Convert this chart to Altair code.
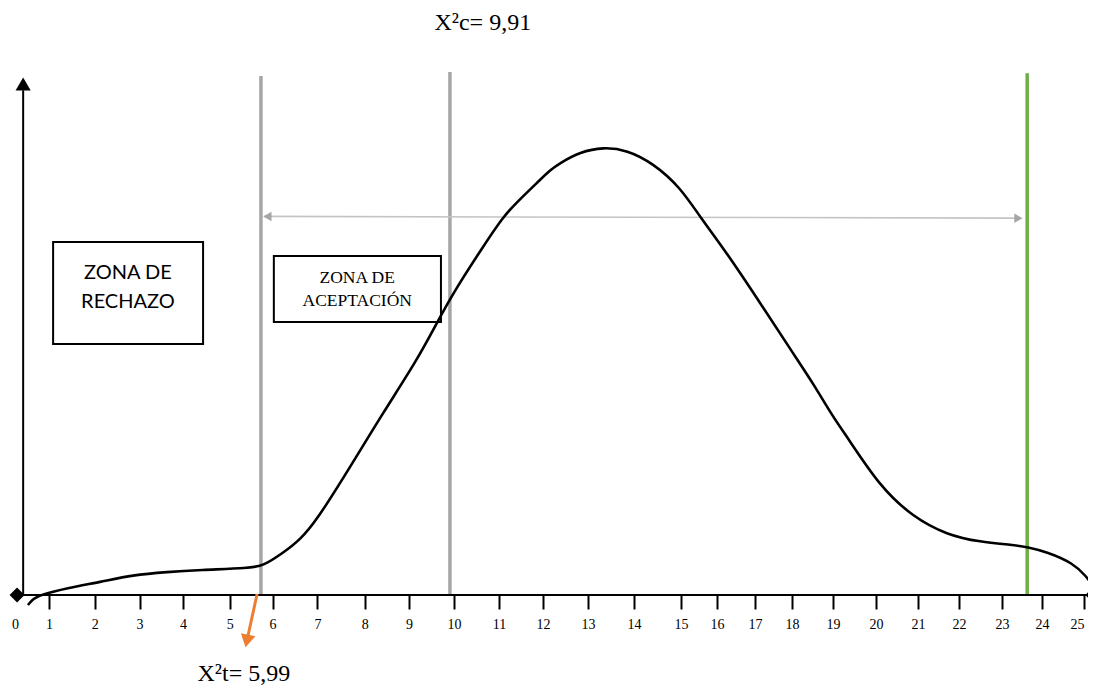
import altair as alt
import pandas as pd

# ---------------- data ----------------
tick_values = list(range(0, 26))

curve_x = [0.38, 0.53, 0.74, 1.39, 2.12, 2.85, 3.63, 4.36, 5.47, 5.78,
           6.23, 6.61, 6.99, 7.69, 8.41, 9.18, 9.62, 9.98, 10.64, 11.09,
           11.41, 11.93, 12.16, 12.38, 12.82, 13.33, 13.85, 14.40, 14.98, 15.53,
           16.26, 17.14, 18.02, 18.51, 19.00, 19.33, 20.10, 20.88, 21.71, 22.49,
           23.28, 23.63, 24.12, 24.74, 25.07, 25.19]
curve_y = [-1.70, -0.68, 0.0, 1.19, 2.21, 3.41, 3.92, 4.26, 4.60, 4.94,
           7.16, 9.37, 12.78, 21.81, 31.01, 40.03, 46.34, 51.45, 59.28, 64.40,
           66.95, 70.70, 72.40, 73.59, 75.47, 76.32, 75.81, 73.59, 69.51, 64.40,
           58.26, 49.74, 41.23, 36.12, 30.32, 26.92, 18.40, 13.29, 10.22, 9.03,
           8.52, 8.18, 7.33, 5.45, 3.07, 1.70]

critical_x = [5.73, 9.91]          # X²t line, X²c line
critical_top = [88.4, 89.1]
green_x = [23.63]
green_top = [88.9]

accept_arrow_x = [5.80, 23.50]
accept_arrow_y = [64.5, 64.2]

rechazo_box = {"x": [1.09], "x2": [4.43], "y": [60.14], "y2": [42.76]}
acept_box = {"x": [6.03], "x2": [9.71], "y": [57.75], "y2": [46.51]}
rechazo_lines = ["ZONA DE", "RECHAZO"]
rechazo_x = [2.74, 2.74]
rechazo_y = [54.85, 49.91]
acept_lines = ["ZONA DE", "ACEPTACIÓN"]
acept_x = [7.84, 7.84]
acept_y = [54.0, 50.09]

label_c = ["X²c= 9,91"]
label_c_x = [10.64]
label_c_y = [97.5]
label_t = ["X²t= 5,99"]
label_t_x = [5.33]
label_t_y = [-14.6]

orange_x = [5.64, 5.42]
orange_y = [0.17, -7.2]
orange_head_x = [5.40]
orange_head_y = [-7.84]

axis_x = [0.06, 25.21]
yaxis_x = [0.24]
yaxis_top = [86.0]
yaxis_head = [87.05]

# ---------------- scales ----------------
X_RANGE = [7, 41, 86.7, 131.6, 175, 221.7, 264.5, 309.4, 356.8, 401, 446,
           491, 535, 580, 626, 673, 709, 747, 784, 825, 868, 910, 951, 994,
           1034, 1076]
X_SCALE = alt.Scale(domain=tick_values, range=X_RANGE, nice=False, zero=False)
Y_SCALE = alt.Scale(domain=[0, 100], nice=False, zero=False)
X_AXIS = alt.Axis(values=tick_values, domain=False, grid=False, tickSize=14,
                  tickWidth=2, tickColor="black",
                  tickOpacity={"condition": {"test": "datum.value === 0", "value": 0}, "value": 1},
                  labelAlign={"condition": {"test": "datum.value === 25", "value": "right"}, "value": "center"},
                  labelFont="Liberation Serif", labelFontSize=14, labelColor="black",
                  labelPadding=8, labelFlush=False, labelOverlap=False, title=None)


def X(f):
    return alt.X(f"{f}:Q", scale=X_SCALE, axis=X_AXIS)


def Y(f):
    return alt.Y(f"{f}:Q", scale=Y_SCALE, axis=None)


base_df = pd.DataFrame

boxes = alt.Chart(base_df({
    "x": rechazo_box["x"] + acept_box["x"],
    "x2": rechazo_box["x2"] + acept_box["x2"],
    "y": rechazo_box["y"] + acept_box["y"],
    "y2": rechazo_box["y2"] + acept_box["y2"],
})).mark_rect(fill="white", stroke="black", strokeWidth=2).encode(
    x=X("x"), x2="x2:Q", y=Y("y"), y2="y2:Q")

crit = alt.Chart(base_df({"x": critical_x, "y0": [0, 0], "y1": critical_top})).mark_rule(
    color="#a6a6a6", strokeWidth=3.5).encode(x=X("x"), y=Y("y0"), y2="y1:Q")

green = alt.Chart(base_df({"x": green_x, "y0": [0], "y1": green_top})).mark_rule(
    color="#70ad47", strokeWidth=3.5).encode(x=X("x"), y=Y("y0"), y2="y1:Q")

acc_line = alt.Chart(base_df({"x": [accept_arrow_x[0]], "x2": [accept_arrow_x[1]],
                              "y": [accept_arrow_y[0]], "y2": [accept_arrow_y[1]]})).mark_rule(
    color="#c4c4c4", strokeWidth=1.6).encode(x=X("x"), x2="x2:Q", y=Y("y"), y2="y2:Q")
acc_left = alt.Chart(base_df({"x": [accept_arrow_x[0] + 0.08], "y": [accept_arrow_y[0]]})).mark_point(
    shape="triangle-left", filled=True, color="#a6a6a6", size=90, opacity=1).encode(x=X("x"), y=Y("y"))
acc_right = alt.Chart(base_df({"x": [accept_arrow_x[1] - 0.09], "y": [accept_arrow_y[1]]})).mark_point(
    shape="triangle-right", filled=True, color="#a6a6a6", size=90, opacity=1).encode(x=X("x"), y=Y("y"))

curve = alt.Chart(base_df({"x": curve_x, "y": curve_y})).mark_line(
    color="black", strokeWidth=2.6, interpolate="basis").encode(x=X("x"), y=Y("y"))

x_line = alt.Chart(base_df({"x": [axis_x[0]], "x2": [axis_x[1]], "y": [0]})).mark_rule(
    color="black", strokeWidth=2).encode(x=X("x"), x2="x2:Q", y=Y("y"))

y_line = alt.Chart(base_df({"x": yaxis_x, "y0": [0], "y1": yaxis_top})).mark_rule(
    color="black", strokeWidth=2).encode(x=X("x"), y=Y("y0"), y2="y1:Q")
y_head = alt.Chart(base_df({"x": yaxis_x, "y": yaxis_head})).mark_point(
    shape="triangle-up", filled=True, color="black", size=230, opacity=1).encode(x=X("x"), y=Y("y"))

diamonds = alt.Chart(base_df({"x": axis_x, "y": [0, 0]})).mark_point(
    shape="diamond", filled=True, color="black", size=225, opacity=1).encode(x=X("x"), y=Y("y"))

rech_text = alt.Chart(base_df({"x": rechazo_x, "y": rechazo_y, "t": rechazo_lines})).mark_text(
    font="Lato", fontSize=20, color="black", baseline="middle").encode(x=X("x"), y=Y("y"), text="t:N")
acep_text = alt.Chart(base_df({"x": acept_x, "y": acept_y, "t": acept_lines})).mark_text(
    font="Liberation Serif", fontSize=17.5, color="black", baseline="middle").encode(x=X("x"), y=Y("y"), text="t:N")

c_text = alt.Chart(base_df({"x": label_c_x, "y": label_c_y, "t": label_c})).mark_text(
    font="Liberation Serif", fontSize=24, color="black", baseline="middle").encode(x=X("x"), y=Y("y"), text="t:N")
t_text = alt.Chart(base_df({"x": label_t_x, "y": label_t_y, "t": label_t})).mark_text(
    font="Liberation Serif", fontSize=24, color="black", baseline="alphabetic").encode(x=X("x"), y=Y("y"), text="t:N")

orange_line = alt.Chart(base_df({"x": [orange_x[0]], "x2": [orange_x[1]],
                                 "y": [orange_y[0]], "y2": [orange_y[1]]})).mark_rule(
    color="#ed7d31", strokeWidth=3).encode(x=X("x"), x2="x2:Q", y=Y("y"), y2="y2:Q")
orange_head = alt.Chart(base_df({"x": orange_head_x, "y": orange_head_y})).mark_point(
    shape="triangle-down", filled=True, color="#ed7d31", size=220, angle=12, opacity=1).encode(
    x=X("x"), y=Y("y"))

chart = alt.layer(
    boxes, crit, green, acc_line, acc_left, acc_right, curve, x_line, y_line, y_head,
    diamonds, rech_text, acep_text, c_text, t_text, orange_line, orange_head
).properties(
    width=1080, height=587,
    autosize=alt.AutoSizeParams(type="none"),
    padding={"left": 0, "top": 0, "right": 0, "bottom": 93},
    background="white",
).configure_view(stroke=None)

chart.save("out.html", embed_options={"renderer": "svg", "actions": False})
